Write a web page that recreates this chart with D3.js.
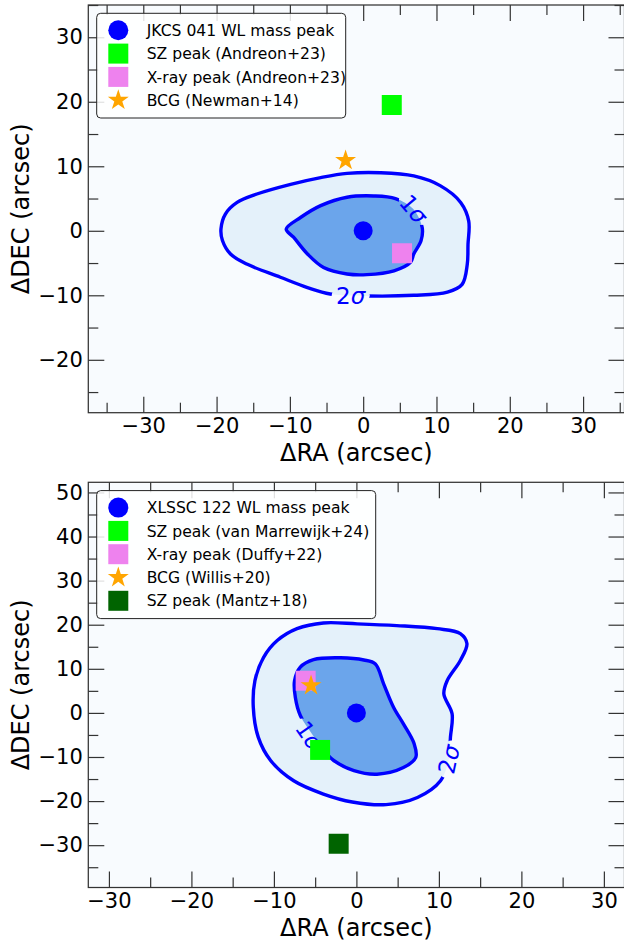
<!DOCTYPE html>
<html>
<head>
<meta charset="utf-8">
<script src="https://cdn.jsdelivr.net/npm/d3@7"></script>
<style>
  body { margin: 0; background: #fff; }
  svg text { font-family: "DejaVu Sans", sans-serif; }
</style>
</head>
<body>
<div id="chart"></div>
<script>
// ---- JKCS 041 (top panel) ----
const jkcsNames = ['JKCS 041 WL mass peak', 'SZ peak (Andreon+23)', 'X-ray peak (Andreon+23)', 'BCG (Newman+14)']
const jkcsRA = [0, 3.9, 5.3, -2.4]
const jkcsDEC = [0, 19.5, -3.5, 10.9]
// contour outlines, [dRA, dDEC] in arcsec
const jkcsSigma2 = [[-19.4, 0.3], [-18.8, 2.6], [-17.2, 4.4], [-14.5, 5.7], [-9.9, 7.2], [-5.8, 8.25], [-2.2, 8.9],
  [2.4, 9.0], [6.9, 8.5], [10.5, 7.0], [13.3, 4.4], [14.4, 1.5], [14.3, -2.1], [14.2, -5.2], [13.5, -8.3],
  [11.5, -9.5], [6.9, -10.0], [0.5, -10.1], [-4.5, -9.8], [-7.6, -8.8], [-11.3, -7.2], [-15.8, -5.2],
  [-18.1, -3.6], [-19.2, -1.5]]
const jkcsSigma1 = [[-10.5, 0.26], [-8.55, 2.06], [-5.8, 3.9], [-2.2, 5.2], [1.45, 5.4], [4.4, 5.0], [6.8, 3.4],
  [8.05, 0.5], [7.9, -1.5], [6.9, -3.6], [6.45, -4.9], [4.2, -6.2], [0.5, -6.8], [-2.2, -6.7], [-5.4, -5.7],
  [-7.6, -3.6], [-9.5, -1.0]]
const jkcsLabelText = ['1', '2']
const jkcsLabelRA = [6.9, -1.7]
const jkcsLabelDEC = [3.4, -10.0]

// ---- XLSSC 122 (bottom panel) ----
const xlsNames = ['XLSSC 122 WL mass peak', 'SZ peak (van Marrewijk+24)', 'X-ray peak (Duffy+22)', 'BCG (Willis+20)', 'SZ peak (Mantz+18)']
const xlsRA = [0, -4.4, -6.15, -5.5, -2.15]
const xlsDEC = [0, -8.4, 7.3, 6.2, -29.7]
const xlsSigma2 = [[-11.25, 12.6], [-12.3, 7.3], [-12.5, 1.3], [-11.9, -5.5], [-10.4, -10.8], [-7.6, -15.4],
  [-4.0, -18.4], [-0.5, -20.2], [3.6, -20.8], [7.4, -19.2], [10.2, -15.4], [11.2, -10.5], [11.4, -5.5],
  [11.6, -0.2], [10.6, 4.3], [11.0, 7.3], [12.6, 11.9], [13.4, 15.7], [12.6, 18.0], [9.8, 19.1], [4.9, 19.8],
  [0.1, 20.2], [-4.0, 20.4], [-7.2, 19.1], [-9.6, 16.4]]
const xlsSigma1 = [[-6.8, 10.4], [-5.2, 12.1], [-1.9, 12.5], [0.9, 12.0], [2.3, 11.1], [3.3, 6.6], [4.5, 1.3],
  [5.7, -2.5], [7.0, -7.0], [7.2, -10.1], [5.7, -12.4], [2.5, -13.9], [-0.3, -13.1], [-2.75, -10.8],
  [-3.6, -9.3], [-5.3, -5.0], [-6.8, -0.6], [-7.4, 3.5], [-7.5, 7.3]]
const xlsLabelText = ['1', '2']
const xlsLabelRA = [-5.7, 11.2]
const xlsLabelDEC = [-5.1, -10.5]

const markerShape = ['circle', 'square', 'square', 'star', 'square']
const markerColor = ['#0000ff', '#00ff00', '#ee82ee', '#ffa500', '#006400']

const W = 624, H = 946
const svg = d3.select('#chart').append('svg')
  .attr('width', W)
  .attr('height', H)

function symbolPath(shape, px) {
  if (shape === 'circle') return d3.symbol(d3.symbolCircle, Math.PI * px * px / 4)()
  if (shape === 'square') return d3.symbol(d3.symbolSquare, px * px)()
  return d3.symbol(d3.symbolStar, 136)()
}

function drawPanel(id, p) {
  const x = d3.scaleLinear().domain(p.xd).range([p.x0, p.x1])
  const y = d3.scaleLinear().domain(p.yd).range([p.y1, p.y0])
  const g = svg.append('g')
  const defs = g.append('defs')

  defs.append('clipPath').attr('id', id + '-clip')
    .append('rect')
    .attr('x', p.x0).attr('y', p.y0)
    .attr('width', p.x1 - p.x0).attr('height', p.y1 - p.y0)

  // gaps in the contour lines where the labels sit
  const mask = defs.append('mask').attr('id', id + '-mask')
  mask.append('rect').attr('x', 0).attr('y', 0).attr('width', W).attr('height', H).attr('fill', '#fff')
  p.labelText.forEach((t, i) => {
    mask.append('ellipse')
      .attr('transform', `translate(${x(p.labelRA[i])},${y(p.labelDEC[i])}) rotate(${p.labelRot[i]})`)
      .attr('rx', 19).attr('ry', 11)
      .attr('fill', '#000')
  })

  // background
  g.append('rect')
    .attr('x', p.x0).attr('y', p.y0)
    .attr('width', p.x1 - p.x0).attr('height', p.y1 - p.y0)
    .attr('fill', '#f8fbfe')

  const plot = g.append('g').attr('clip-path', `url(#${id}-clip)`)
  const line = d3.line()
    .x(d => x(d[0]))
    .y(d => y(d[1]))
    .curve(d3.curveCatmullRomClosed.alpha(0.5))

  plot.append('path').attr('d', line(p.sigma2)).attr('fill', '#e4f1fa')
  plot.append('path').attr('d', line(p.sigma1)).attr('fill', '#6ba5eb')
  const lines = plot.append('g').attr('mask', `url(#${id}-mask)`)
  ;[p.sigma2, p.sigma1].forEach(c => {
    lines.append('path').attr('d', line(c))
      .attr('fill', 'none')
      .attr('stroke', '#0000ff')
      .attr('stroke-width', 3.4)
  })

  p.labelText.forEach((t, i) => {
    const txt = plot.append('text')
      .attr('transform', `translate(${x(p.labelRA[i])},${y(p.labelDEC[i])}) rotate(${p.labelRot[i]})`)
      .attr('text-anchor', 'middle')
      .attr('dy', '0.36em')
      .attr('font-size', 23)
      .attr('fill', '#0000ff')
    txt.append('tspan').text(t)
    txt.append('tspan').attr('font-style', 'italic').text('σ')
  })

  // markers
  p.ra.forEach((ra, i) => {
    plot.append('path')
      .attr('d', symbolPath(markerShape[i], markerShape[i] === 'circle' ? 19 : 20))
      .attr('transform', `translate(${x(ra)},${y(p.dec[i])})`)
      .attr('fill', markerColor[i])
  })

  // ticks, pointing inwards on all four sides
  const major = (d) => d3.range(Math.ceil(d[0] / 10) * 10, d[1] + 0.01, 10)
  const minor = (d) => d3.range(Math.ceil(d[0] / 5) * 5, d[1] + 0.01, 5).filter(v => v % 10 !== 0)
  const style = (a) => {
    a.select('.domain').remove()
    a.attr('font-size', 21).attr('font-family', '"DejaVu Sans", sans-serif')
    a.selectAll('line').attr('stroke', '#333').attr('stroke-width', 1.2)
    a.selectAll('text').attr('fill', '#000')
  }
  const axes = [
    [d3.axisBottom(x), p.xd, `translate(0,${p.y1})`, true],
    [d3.axisTop(x), p.xd, `translate(0,${p.y0})`, false],
    [d3.axisLeft(y), p.yd, `translate(${p.x0},0)`, true],
    [d3.axisRight(y), p.yd, `translate(${p.x1},0)`, false]
  ]
  axes.forEach(([ax, dom, tr, labels]) => {
    g.append('g').attr('transform', tr)
      .call(ax.tickValues(major(dom)).tickSize(-16).tickPadding(5.5)
        .tickFormat(labels ? d3.format('d') : ''))
      .call(style)
    g.append('g').attr('transform', tr)
      .call(ax.tickValues(minor(dom)).tickSize(-10).tickFormat(''))
      .call(style)
  })

  // spines
  g.append('rect')
    .attr('x', p.x0).attr('y', p.y0)
    .attr('width', p.x1 - p.x0).attr('height', p.y1 - p.y0)
    .attr('fill', 'none')
    .attr('stroke', '#333')
    .attr('stroke-width', 1.25)

  // axis titles
  g.append('text')
    .attr('x', (p.x0 + p.x1) / 2)
    .attr('y', p.y1 + 48.5)
    .attr('text-anchor', 'middle')
    .attr('font-size', 24)
    .text('ΔRA (arcsec)')
  g.append('text')
    .attr('transform', `translate(29,${(p.y0 + p.y1) / 2}) rotate(-90)`)
    .attr('text-anchor', 'middle')
    .attr('font-size', 24)
    .text('ΔDEC (arcsec)')

  // legend
  const lg = g.append('g').attr('transform', `translate(${p.x0 + 8.4},${p.y0 + 8.3})`)
  lg.append('rect')
    .attr('width', p.legendW)
    .attr('height', 11.5 + p.names.length * 23.3)
    .attr('rx', 4)
    .attr('fill', '#fff')
    .attr('fill-opacity', 0.85)
    .attr('stroke', '#222')
    .attr('stroke-width', 1)
  p.names.forEach((n, i) => {
    const cy = 17 + i * 23.3
    lg.append('path')
      .attr('d', symbolPath(markerShape[i], 20))
      .attr('transform', `translate(21.6,${cy})`)
      .attr('fill', markerColor[i])
    lg.append('text')
      .attr('x', 50)
      .attr('y', cy)
      .attr('dy', '0.36em')
      .attr('font-size', 15.6)
      .text(n)
  })
}

drawPanel('top', {
  x0: 88.3, x1: 624.5, y0: 5, y1: 412.7,
  xd: [-37.5, 35.65], yd: [-28.2, 35],
  ra: jkcsRA, dec: jkcsDEC, names: jkcsNames,
  sigma1: jkcsSigma1, sigma2: jkcsSigma2,
  labelText: jkcsLabelText, labelRA: jkcsLabelRA, labelDEC: jkcsLabelDEC,
  labelRot: [50, 0], legendW: 249
})
drawPanel('bottom', {
  x0: 88.3, x1: 624.5, y0: 482.3, y1: 887.5,
  xd: [-32.5, 32.5], yd: [-39.6, 52.3],
  ra: xlsRA, dec: xlsDEC, names: xlsNames,
  sigma1: xlsSigma1, sigma2: xlsSigma2,
  labelText: xlsLabelText, labelRA: xlsLabelRA, labelDEC: xlsLabelDEC,
  labelRot: [55, -78], legendW: 279
})
</script>
</body>
</html>
